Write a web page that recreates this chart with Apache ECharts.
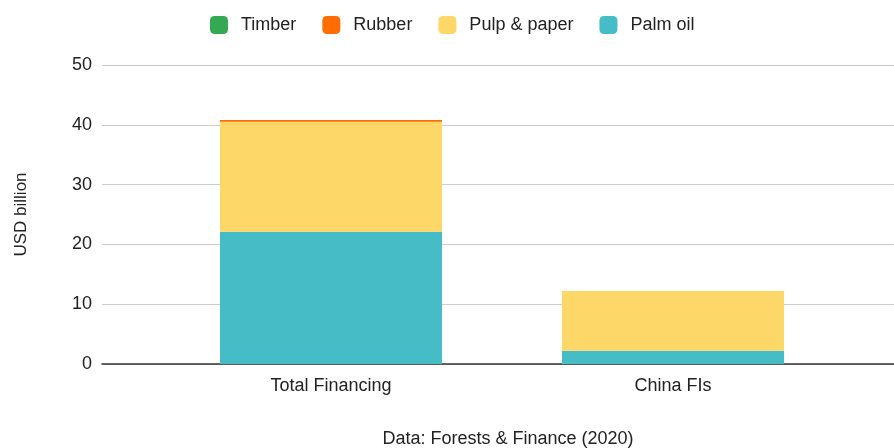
<!DOCTYPE html>
<html>
<head>
<meta charset="utf-8">
<script src="https://cdn.jsdelivr.net/npm/echarts@6/dist/echarts.min.js"></script>
<style>
  html, body { margin: 0; padding: 0; background: #fff; }
  #main { width: 894px; height: 448px; }
</style>
</head>
<body>
<div id="main"></div>
<script>
// values in USD billion
var categories = ["Total Financing", "China FIs"];
var palmOil = [22.1, 2.2];
var pulpPaper = [18.4, 10.0];
var rubber = [0.3, 0];
var timber = [0.02, 0];
var legendOrder = ["Timber", "Rubber", "Pulp & paper", "Palm oil"];

var font = "Liberation Sans, Arial, sans-serif";
var chart = echarts.init(document.getElementById("main"));

function barSeries(name, data, color) {
  return {
    name: name,
    type: "bar",
    stack: "total",
    xAxisIndex: 1,
    yAxisIndex: 1,
    barWidth: 222,
    data: data,
    itemStyle: { color: color }
  };
}

chart.setOption({
  animation: false,
  textStyle: { fontFamily: font },
  legend: {
    top: 11,
    left: 205,
    icon: "roundRect",
    itemWidth: 18,
    itemHeight: 18,
    itemGap: 26,
    data: legendOrder,
    textStyle: { fontSize: 18, color: "#222", padding: [0, 0, 0, 8] }
  },
  title: {
    text: "Data: Forests & Finance (2020)",
    left: 503,
    top: 425,
    textAlign: "center",
    textStyle: { fontSize: 18, fontWeight: "normal", color: "#222" }
  },
  grid: [
    { left: 102, right: -10, top: 65, bottom: 84 },   // gridlines / axis
    { left: 160, right: 50, top: 65, bottom: 84 }     // bars
  ],
  xAxis: [
    {
      gridIndex: 0,
      type: "value",
      min: 0,
      max: 1,
      axisLine: { show: true, lineStyle: { color: "#333", width: 1.5 } },
      axisTick: { show: false },
      axisLabel: { show: false },
      splitLine: { show: false }
    },
    {
      gridIndex: 1,
      type: "category",
      data: categories,
      axisLine: { show: false },
      axisTick: { show: false },
      axisLabel: { fontSize: 18, color: "#222", margin: 13 }
    }
  ],
  yAxis: [
    {
      gridIndex: 0,
      type: "value",
      min: 0,
      max: 50,
      interval: 10,
      name: "USD billion",
      nameLocation: "middle",
      nameGap: 72,
      nameTextStyle: { fontSize: 17, color: "#222" },
      axisLine: { show: false },
      axisTick: { show: false },
      axisLabel: { fontSize: 18, color: "#222", margin: 10 },
      splitLine: { lineStyle: { color: "#ccc", width: 1 } }
    },
    {
      gridIndex: 1,
      type: "value",
      min: 0,
      max: 50,
      interval: 10,
      show: false,
      splitLine: { show: false }
    }
  ],
  series: [
    barSeries("Palm oil", palmOil, "#46bdc6"),
    barSeries("Pulp & paper", pulpPaper, "#fdd868"),
    barSeries("Rubber", rubber, "#ff6d01"),
    barSeries("Timber", timber, "#34a853")
  ]
});
</script>
</body>
</html>
